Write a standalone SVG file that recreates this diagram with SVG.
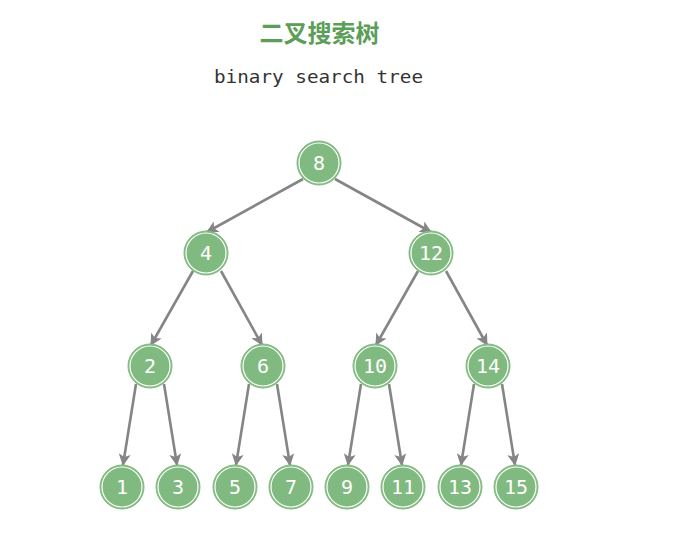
<svg xmlns="http://www.w3.org/2000/svg" width="696" height="546" viewBox="0 0 696 546">
<defs>
<style>
.edge{stroke:#858585;stroke-width:2.6;fill:none;marker-end:url(#arr)}
.node circle.o{fill:#81ba80;stroke:#81ba80;stroke-width:1}
.node circle.i{fill:none;stroke:#ffffff;stroke-width:1.2}
.node text{fill:#ffffff;font-family:"DejaVu Sans Mono","Liberation Mono",monospace;font-size:20px;text-anchor:middle;dominant-baseline:central}
</style>
<marker id="arr" viewBox="0 0 12 12" refX="11" refY="6" markerWidth="12" markerHeight="12" markerUnits="userSpaceOnUse" orient="auto">
<path d="M0,0 L12,6 L0,12 L3,6 Z" fill="#858585"/>
</marker>
</defs>
<rect width="696" height="546" fill="#ffffff"/>
<text x="319.5" y="42" text-anchor="middle" font-family="'Noto Sans CJK SC',sans-serif" font-weight="bold" font-size="24" fill="#5a9e57">二叉搜索树</text>
<text x="318.5" y="83" text-anchor="middle" font-family="'DejaVu Sans Mono','Liberation Mono',monospace" font-size="18" fill="#333333" textLength="209" lengthAdjust="spacingAndGlyphs">binary search tree</text>
<g id="connectors">
<line class="edge" x1="303" y1="179" x2="207" y2="232"/>
<line class="edge" x1="335" y1="179" x2="431" y2="232"/>
<line class="edge" x1="193" y1="271" x2="151" y2="345"/>
<line class="edge" x1="221" y1="271" x2="262" y2="345"/>
<line class="edge" x1="418" y1="271" x2="376" y2="345"/>
<line class="edge" x1="446" y1="271" x2="487" y2="345"/>
<line class="edge" x1="136" y1="384" x2="123" y2="465"/>
<line class="edge" x1="164" y1="384" x2="177" y2="465"/>
<line class="edge" x1="249" y1="384" x2="236" y2="465"/>
<line class="edge" x1="277" y1="384" x2="290" y2="465"/>
<line class="edge" x1="361" y1="384" x2="348" y2="465"/>
<line class="edge" x1="389" y1="384" x2="402" y2="465"/>
<line class="edge" x1="474" y1="384" x2="461" y2="465"/>
<line class="edge" x1="502" y1="384" x2="515" y2="465"/>
</g>
<g id="n8" class="node"><circle class="o" cx="319" cy="163" r="22"/><circle class="i" cx="319" cy="163" r="20"/><text x="319" y="163">8</text></g>
<g id="n4" class="node"><circle class="o" cx="206" cy="253" r="22"/><circle class="i" cx="206" cy="253" r="20"/><text x="206" y="253">4</text></g>
<g id="n12" class="node"><circle class="o" cx="431" cy="253" r="22"/><circle class="i" cx="431" cy="253" r="20"/><text x="431" y="253">12</text></g>
<g id="n2" class="node"><circle class="o" cx="150" cy="366" r="22"/><circle class="i" cx="150" cy="366" r="20"/><text x="150" y="366">2</text></g>
<g id="n6" class="node"><circle class="o" cx="263" cy="366" r="22"/><circle class="i" cx="263" cy="366" r="20"/><text x="263" y="366">6</text></g>
<g id="n10" class="node"><circle class="o" cx="375" cy="366" r="22"/><circle class="i" cx="375" cy="366" r="20"/><text x="375" y="366">10</text></g>
<g id="n14" class="node"><circle class="o" cx="488" cy="366" r="22"/><circle class="i" cx="488" cy="366" r="20"/><text x="488" y="366">14</text></g>
<g id="n1" class="node"><circle class="o" cx="122" cy="487" r="22"/><circle class="i" cx="122" cy="487" r="20"/><text x="122" y="487">1</text></g>
<g id="n3" class="node"><circle class="o" cx="178" cy="487" r="22"/><circle class="i" cx="178" cy="487" r="20"/><text x="178" y="487">3</text></g>
<g id="n5" class="node"><circle class="o" cx="235" cy="487" r="22"/><circle class="i" cx="235" cy="487" r="20"/><text x="235" y="487">5</text></g>
<g id="n7" class="node"><circle class="o" cx="291" cy="487" r="22"/><circle class="i" cx="291" cy="487" r="20"/><text x="291" y="487">7</text></g>
<g id="n9" class="node"><circle class="o" cx="347" cy="487" r="22"/><circle class="i" cx="347" cy="487" r="20"/><text x="347" y="487">9</text></g>
<g id="n11" class="node"><circle class="o" cx="403" cy="487" r="22"/><circle class="i" cx="403" cy="487" r="20"/><text x="403" y="487">11</text></g>
<g id="n13" class="node"><circle class="o" cx="460" cy="487" r="22"/><circle class="i" cx="460" cy="487" r="20"/><text x="460" y="487">13</text></g>
<g id="n15" class="node"><circle class="o" cx="516" cy="487" r="22"/><circle class="i" cx="516" cy="487" r="20"/><text x="516" y="487">15</text></g>
</svg>
